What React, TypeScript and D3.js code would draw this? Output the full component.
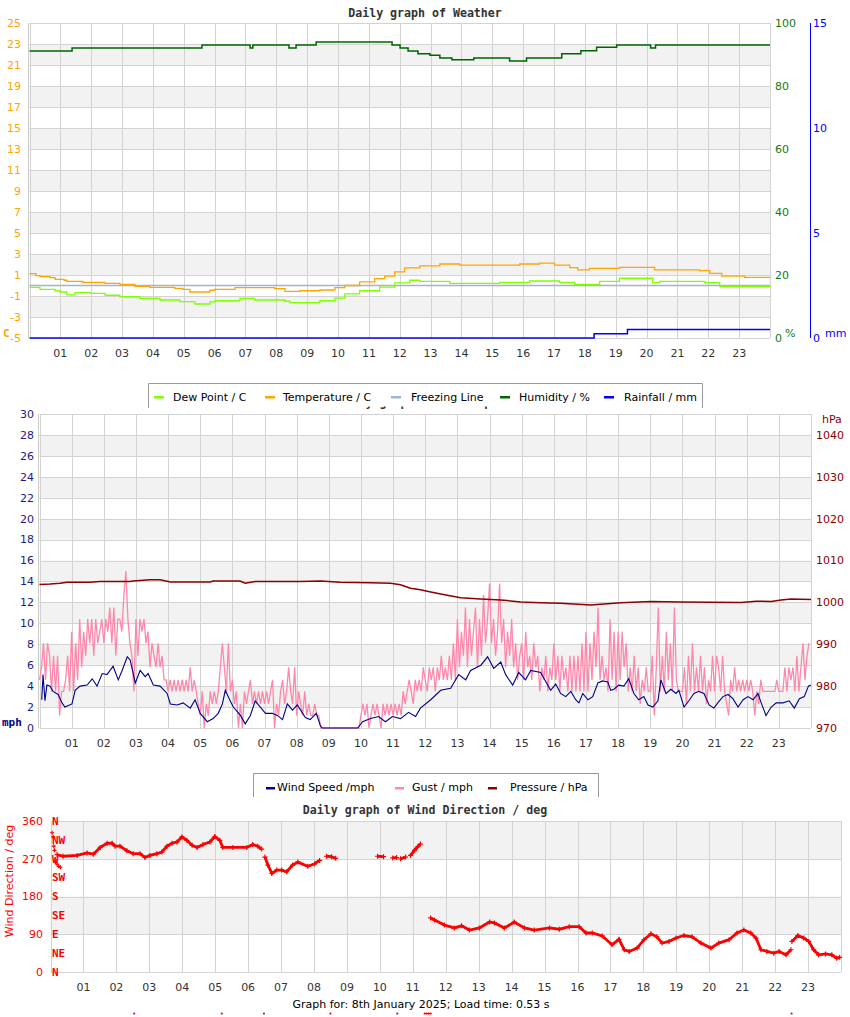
import * as d3 from "d3";

// ---------- data ----------
const hourLabels = d3.range(1, 24).map((h) => String(h).padStart(2, "0"));

// weather chart (hours since midnight)
const tempHours = [0, 0.21, 0.34, 0.66, 0.83, 1.12, 1.21, 1.73, 2.45, 2.93, 3.42, 3.9, 4.71, 4.97, 5.2, 5.85, 6.0, 6.66, 7.3, 7.95, 8.28, 8.76, 9.41, 9.9, 10.22, 10.7, 11.19, 11.51, 11.84, 12.16, 12.65, 13.3, 13.94, 14.91, 15.89, 16.53, 17.02, 17.51, 17.77, 18.15, 19.12, 20.1, 20.26, 21.72, 22.05, 22.44, 23.18, 24];
const tempC = [1.13, 0.95, 0.84, 0.75, 0.59, 0.5, 0.4, 0.3, 0.2, 0.1, -0.08, -0.17, -0.27, -0.36, -0.62, -0.45, -0.36, -0.2, -0.2, -0.3, -0.55, -0.5, -0.43, -0.2, 0.0, 0.35, 0.65, 0.9, 1.3, 1.67, 1.86, 2.05, 1.95, 1.95, 2.05, 2.14, 1.95, 1.7, 1.48, 1.64, 1.73, 1.73, 1.48, 1.41, 1.16, 0.9, 0.78, 0.78];

const dewHours = [0, 0.34, 0.83, 0.99, 1.21, 1.47, 1.96, 2.45, 2.93, 3.58, 4.23, 4.87, 5.36, 5.85, 6.01, 6.82, 7.3, 8.28, 8.44, 8.76, 9.41, 9.9, 10.22, 10.7, 11.35, 11.84, 12.33, 12.65, 13.62, 15.24, 16.21, 17.18, 17.67, 17.84, 18.48, 19.12, 20.1, 20.2, 20.42, 21.72, 21.89, 22.37, 24];
const dewC = [-0.17, -0.36, -0.5, -0.62, -0.9, -0.68, -0.75, -0.93, -1.07, -1.22, -1.38, -1.54, -1.76, -1.55, -1.45, -1.22, -1.38, -1.5, -1.64, -1.64, -1.45, -1.2, -0.8, -0.5, -0.15, 0.25, 0.5, 0.4, 0.2, 0.3, 0.43, 0.3, 0.11, 0.11, 0.4, 0.69, 0.69, 0.27, 0.4, 0.4, 0.27, -0.11, -0.17];

const freezingC = 0;

const humHours = [0, 1.38, 5.59, 7.15, 7.24, 8.41, 8.64, 9.29, 11.75, 12.01, 12.27, 12.59, 12.98, 13.3, 13.69, 14.4, 15.56, 16.11, 17.25, 17.87, 18.38, 19.03, 20.13, 20.29, 24];
const humPct = [91.1, 92.1, 93.0, 92.1, 93.0, 92.1, 93.0, 94.0, 93.0, 92.1, 91.1, 90.2, 89.8, 88.9, 88.3, 88.9, 87.9, 88.9, 90.2, 91.2, 92.3, 93.0, 92.1, 93.0, 93.0];

const rainHours = [0, 18.3, 19.38, 24];
const rainMm = [0, 0.2, 0.4, 0.4];

// wind chart
const windHours = [0.07, 0.11, 0.17, 0.23, 0.33, 0.42, 0.58, 0.7, 0.79, 1.01, 1.11, 1.26, 1.48, 1.64, 1.79, 1.95, 2.1, 2.29, 2.45, 2.57, 2.73, 2.82, 2.98, 3.13, 3.29, 3.38, 3.54, 3.75, 3.97, 4.07, 4.28, 4.47, 4.69, 4.84, 5.0, 5.22, 5.4, 5.56, 5.69, 5.78, 5.93, 6.03, 6.25, 6.4, 6.56, 6.71, 6.87, 7.03, 7.24, 7.4, 7.56, 7.71, 7.87, 8.02, 8.27, 8.42, 8.61, 8.74, 8.8, 9.9, 10.05, 10.3, 10.55, 10.76, 10.98, 11.23, 11.48, 11.7, 11.85, 12.17, 12.48, 12.79, 13.04, 13.26, 13.41, 13.73, 13.94, 14.13, 14.35, 14.5, 14.72, 14.91, 15.12, 15.28, 15.59, 15.9, 16.06, 16.21, 16.37, 16.53, 16.68, 16.78, 16.9, 17.06, 17.21, 17.37, 17.52, 17.68, 17.77, 17.87, 18.02, 18.18, 18.33, 18.49, 18.64, 18.8, 18.93, 19.08, 19.24, 19.33, 19.49, 19.64, 19.8, 19.89, 20.05, 20.2, 20.36, 20.51, 20.67, 20.83, 20.98, 21.1, 21.26, 21.42, 21.57, 21.73, 21.89, 22.04, 22.2, 22.35, 22.45, 22.6, 22.76, 22.92, 23.13, 23.32, 23.48, 23.64, 23.79, 23.92, 24];
const windMph = [2.7, 5.1, 2.6, 4.1, 4.0, 3.5, 3.2, 2.4, 2.0, 2.3, 3.6, 4.0, 4.1, 4.7, 4.0, 5.2, 5.1, 5.9, 4.6, 5.5, 6.8, 6.5, 4.3, 5.5, 4.9, 5.2, 4.1, 4.0, 3.3, 2.3, 2.2, 2.4, 1.9, 2.7, 1.4, 0.6, 0.9, 1.4, 2.3, 3.6, 2.6, 2.0, 1.2, 0.4, 1.2, 2.6, 2.0, 1.4, 1.4, 1.2, 0.8, 2.3, 1.7, 2.2, 1.0, 0.8, 1.4, 0.2, 0, 0, 0.6, 0.9, 1.1, 0.6, 1.1, 0.9, 1.5, 1.1, 1.9, 2.7, 3.6, 3.8, 5.1, 4.6, 5.5, 6.0, 6.8, 5.7, 6.3, 5.1, 4.1, 5.3, 4.6, 5.5, 5.3, 3.6, 4.2, 3.3, 3.0, 3.5, 2.7, 2.4, 3.3, 2.7, 3.0, 4.3, 4.5, 4.4, 3.6, 3.7, 4.1, 4.0, 4.7, 3.3, 2.7, 3.0, 2.2, 2.0, 2.6, 4.6, 3.3, 3.7, 3.3, 3.6, 2.0, 2.6, 3.3, 3.5, 3.3, 2.2, 1.9, 2.4, 3.0, 3.2, 2.8, 2.0, 2.7, 3.0, 2.7, 3.3, 2.4, 1.2, 2.0, 2.4, 2.4, 2.6, 1.9, 2.8, 3.0, 4.0, 4.1];

// gust readings, 16 per hour
const gustMph = [
  4.6, 5.8, 8.1, 4.6, 8.1, 6.9, 3.5, 6.9, 3.5, 6.9, 1.2, 3.5, 3.5, 4.6, 6.9, 3.5,
  9.2, 3.5, 8.1, 4.6, 10.4, 5.8, 9.2, 6.9, 10.4, 8.1, 10.4, 6.9, 10.4, 8.1, 9.2, 10.4,
  8.1, 10.4, 9.2, 11.5, 8.1, 11.5, 6.9, 10.4, 10.4, 9.2, 12.7, 15.0, 10.4, 8.1, 6.9, 3.5,
  10.4, 6.9, 10.4, 9.2, 10.4, 8.1, 9.2, 5.8, 8.1, 6.9, 5.8, 8.1, 5.8, 6.9, 4.6, 4.6,
  3.5, 4.6, 3.5, 4.6, 3.5, 4.6, 3.5, 4.6, 3.5, 4.6, 3.5, 5.8, 3.5, 4.6, 3.5, 2.3,
  1.2, 3.5, 0, 2.3, 1.2, 3.5, 2.3, 3.5, 2.3, 3.5, 5.8, 8.1, 5.8, 3.5, 8.1, 3.5,
  4.6, 2.3, 3.5, 0, 2.3, 0, 3.5, 2.3, 3.5, 4.6, 2.3, 3.5, 2.3, 3.5, 2.3, 3.5,
  2.3, 3.5, 2.3, 3.5, 4.6, 0, 2.3, 1.2, 3.5, 4.6, 2.3, 3.5, 5.8, 3.5, 2.3, 5.8,
  1.2, 3.5, 2.3, 1.2, 3.5, 1.2, 2.3, 1.2, 1.2, 2.3, 1.2, 1.2, 0, 0, 0, 0,
  0, 0, 0, 0, 0, 0, 0, 0, 0, 0, 0, 0, 0, 0, 0, 0,
  1.2, 2.3, 1.2, 2.3, 0, 1.2, 2.3, 1.2, 2.3, 1.2, 0, 2.3, 1.2, 2.3, 1.2, 2.3,
  1.2, 2.3, 1.2, 2.3, 1.2, 3.5, 2.3, 3.5, 4.6, 3.5, 2.3, 4.6, 3.5, 4.6, 3.5, 5.8,
  4.6, 3.5, 5.8, 4.6, 5.8, 3.5, 5.8, 4.6, 6.9, 4.6, 5.8, 4.6, 6.9, 4.6, 8.1, 4.6,
  10.4, 5.8, 9.2, 6.9, 11.5, 5.8, 10.4, 6.9, 9.2, 11.5, 5.8, 10.4, 6.9, 12.7, 8.1, 10.4,
  13.8, 8.1, 10.4, 6.9, 9.2, 13.8, 8.1, 10.4, 5.8, 9.2, 6.9, 10.4, 5.8, 8.1, 4.6, 6.9,
  8.1, 4.6, 9.2, 5.8, 6.9, 4.6, 8.1, 5.8, 6.9, 3.5, 5.8, 4.6, 6.9, 3.5, 5.8, 4.6,
  8.1, 4.6, 6.9, 3.5, 6.9, 4.6, 5.8, 3.5, 6.9, 3.5, 6.9, 3.5, 6.9, 3.5, 8.1, 3.5,
  9.2, 3.5, 8.1, 4.6, 9.2, 5.8, 11.5, 4.6, 6.9, 4.6, 5.8, 3.5, 10.4, 4.6, 9.2, 3.5,
  9.2, 4.6, 9.2, 5.8, 8.1, 3.5, 5.8, 3.5, 6.9, 3.5, 5.8, 2.3, 4.6, 3.5, 5.8, 3.5,
  3.5, 6.9, 1.2, 5.8, 11.5, 3.5, 6.9, 3.5, 9.2, 4.6, 8.1, 3.5, 11.5, 4.6, 3.5, 3.5,
  3.5, 5.8, 2.3, 6.9, 3.5, 8.1, 3.5, 5.8, 3.5, 6.9, 3.5, 5.8, 2.3, 4.6, 3.5, 6.9,
  3.5, 6.9, 5.8, 3.5, 6.9, 3.5, 2.3, 1.2, 4.6, 3.5, 5.8, 3.5, 4.6, 3.5, 4.6, 3.5,
  4.6, 3.5, 4.6, 3.5, 1.2, 3.5, 2.3, 4.6, 3.5, 3.5, 3.5, 3.5, 3.5, 3.5, 3.5, 4.6,
  3.5, 3.5, 3.5, 5.8, 3.5, 5.8, 4.6, 5.8, 3.5, 6.9, 3.5, 5.8, 8.1, 4.6, 6.9, 8.1,
];

const pressHours = [0, 0.33, 0.64, 0.86, 1.57, 1.88, 2.82, 2.91, 3.44, 3.75, 4.07, 5.31, 5.4, 6.24, 6.4, 6.71, 8.12, 8.74, 9.36, 10.3, 10.92, 11.23, 11.54, 11.85, 12.17, 12.48, 13.1, 13.72, 14.35, 14.97, 15.59, 16.21, 17.15, 18.08, 19.02, 19.95, 21.82, 22.29, 22.76, 23.07, 23.38, 24];
const pressHpa = [1004.3, 1004.4, 1004.6, 1004.8, 1004.8, 1005.0, 1005.0, 1005.1, 1005.4, 1005.4, 1004.9, 1004.9, 1005.1, 1005.1, 1004.6, 1005.0, 1005.0, 1005.1, 1004.8, 1004.7, 1004.6, 1004.2, 1003.4, 1003.0, 1002.5, 1002.0, 1001.1, 1000.8, 1000.6, 1000.1, 999.9, 999.8, 999.4, 999.9, 1000.2, 1000.1, 1000.0, 1000.3, 1000.2, 1000.6, 1000.8, 1000.7];

// wind direction (NaN = gap in the record)
const dirHours = [0.2, 0.38, 0.81, 1.11, 1.3, 1.51, 1.72, 1.87, 1.96, 2.11, 2.32, 2.51, 2.72, 2.87, 3.02, 3.23, 3.38, 3.54, 3.69, 3.84, 3.99, 4.14, 4.3, 4.45, 4.63, 4.84, 4.99, 5.14, 5.23, 5.54, 5.96, 6.14, 6.29, 6.41, 6.45, 6.51, 6.6, 6.72, 6.87, 7.02, 7.17, 7.35, 7.51, 7.81, 8.02, 8.17, 8.27, 8.38, 8.53, 8.66, 8.7, 9.93, 10.11, 10.2, 10.39, 10.51, 10.56, 10.63, 10.78, 10.85, 10.93, 11.05, 11.14, 11.23, 11.3, 11.54, 11.66, 11.96, 12.26, 12.48, 12.72, 13.02, 13.33, 13.48, 13.78, 14.08, 14.39, 14.69, 15.15, 15.45, 15.75, 16.05, 16.26, 16.45, 16.75, 17.05, 17.26, 17.42, 17.57, 17.81, 18.02, 18.23, 18.41, 18.57, 18.78, 18.99, 19.23, 19.48, 19.75, 20.05, 20.29, 20.6, 20.84, 21.05, 21.26, 21.42, 21.57, 21.75, 21.96, 22.12, 22.33, 22.48, 22.5, 22.51, 22.69, 22.87, 23.02, 23.17, 23.32, 23.53, 23.72, 23.87, 23.96];
const dirDeg = [280, 276, 278, 284, 281, 297, 307, 307, 300, 300, 289, 282, 282, 273, 278, 282, 286, 300, 307, 310, 322, 314, 302, 297, 304, 310, 323, 314, 297, 297, 297, 304, 300, 293, NaN, 274, 255, 235, 243, 243, 239, 255, 262, 252, 258, 266, NaN, 276, 275, 271, NaN, 276, 275, NaN, 272, 273, NaN, 270, 274, NaN, 278, 290, 298, 305, NaN, 129, 124, 112, 105, 110, 100, 105, 119, 117, 105, 119, 105, 100, 105, 102, 108, 108, 93, 93, 86, 65, 78, 53, 49, 57, 77, 91, 84, 69, 73, 81, 87, 84, 69, 57, 69, 77, 93, 100, 93, 81, 53, 49, 45, 49, 41, 53, NaN, 73, 87, 81, 73, 53, 41, 43, 41, 33, 35];

const dirEarlyHours = [0.05, 0.08, 0.1, 0.12, 0.15, 0.2, 0.25, 0.3];
const dirEarlyDeg = [332, 322, 300, 290, 262, 257, 252, 250];

const dirMissingHours = [2.54, 5.2, 6.48, 8.5, 10.53, 11.36, 11.42, 11.48, 11.54, 22.5];
const dirMissingDeg = [-99, -99, -99, -99, -99, -99, -99, -99, -99, -99];

// axis ticks
const tempTicks = d3.range(-5, 26, 2);
const humTicks = [0, 20, 40, 60, 80, 100];
const rainTicks = [0, 5, 10, 15];
const windTicks = d3.range(0, 31, 2);
const pressTicks = d3.range(970, 1041, 10);
const dirTicks = [0, 90, 180, 270, 360];
const compassLabels = ["N", "NE", "E", "SE", "S", "SW", "W", "NW", "N"];

// ---------- helpers ----------
const SANS = "DejaVu Sans, sans-serif";
const MONO = "DejaVu Sans Mono, monospace";
const GRID = "#d3d3d3";
const BAND = "#f2f2f2";
const px = (v: number) => Math.round(v) + 0.5;
const zip = (xs: number[], ys: number[]) => xs.map((x, i) => [x, ys[i]] as [number, number]);

function Plot({ x, y, bands, lines, left, right, top, bottom }: any) {
  return (
    <g>
      {bands.map(([a, b]: number[]) => (
        <rect key={a} x={left} width={right - left} y={y(b)} height={y(a) - y(b)} fill={BAND} />
      ))}
      {lines.map((v: number) => (
        <line key={"h" + v} x1={left} x2={right} y1={px(y(v))} y2={px(y(v))} stroke={GRID} />
      ))}
      {d3.range(0, 25).map((h) => (
        <line key={"v" + h} x1={px(x(h))} x2={px(x(h))} y1={top} y2={bottom} stroke={GRID} />
      ))}
    </g>
  );
}

function HourLabels({ x, y }: any) {
  return (
    <g fontFamily={SANS} fontSize={11} fill="#333" textAnchor="middle">
      {hourLabels.map((l, i) => (
        <text key={l} x={x(i + 1)} y={y}>{l}</text>
      ))}
    </g>
  );
}

function crosses(pts: [number, number][], x: any, y: any, r: number) {
  return pts
    .map(([h, v]) => `M${x(h) - r},${y(v)}h${2 * r}M${x(h)},${y(v) - r}v${2 * r}`)
    .join("");
}

export default function App() {
  // chart 1: weather
  const x1 = d3.scaleLinear().domain([0, 24]).range([29.5, 770]);
  const yTemp = d3.scaleLinear().domain([-5, 25]).range([338, 23]);
  const yHum = d3.scaleLinear().domain([0, 100]).range([338, 23]);
  const yRain = d3.scaleLinear().domain([0, 15]).range([338, 23]);

  const line1 = (ys: any, curve: any = d3.curveLinear) =>
    d3.line<[number, number]>().x((d) => x1(d[0])).y((d) => ys(d[1])).curve(curve);

  // chart 2: wind
  const x2 = d3.scaleLinear().domain([0, 24]).range([39.5, 811]);
  const yWind = d3.scaleLinear().domain([0, 30]).range([728, 414]);
  const yPress = d3.scaleLinear().domain([970, 1045]).range([728, 414]);
  const line2 = (ys: any) => d3.line<[number, number]>().x((d) => x2(d[0])).y((d) => ys(d[1]));

  // chart 3: direction
  const x3 = d3.scaleLinear().domain([0, 24]).range([50.5, 841]);
  const yDir = d3.scaleLinear().domain([0, 360]).range([972, 821]);
  const dirPts = zip(dirHours, dirDeg);
  const dirLine = d3
    .line<[number, number]>()
    .defined((d) => !isNaN(d[1]))
    .x((d) => x3(d[0]))
    .y((d) => yDir(d[1]));

  const legend1 = [
    { label: "Dew Point / C", color: "#7fff00", sx: 154, tx: 173 },
    { label: "Temperature / C", color: "#ffa500", sx: 265, tx: 283 },
    { label: "Freezing Line", color: "#a3b4cc", sx: 391, tx: 411 },
    { label: "Humidity / %", color: "#006400", sx: 500, tx: 519 },
    { label: "Rainfall / mm", color: "#0000ff", sx: 604, tx: 624 },
  ];
  const legend2 = [
    { label: "Wind Speed /mph", color: "#00008b", sx: 266, tx: 277 },
    { label: "Gust / mph", color: "#ff88aa", sx: 395, tx: 412 },
    { label: "Pressure / hPa", color: "#8b0000", sx: 488, tx: 510 },
  ];

  return (
    <div style={{ position: "absolute", left: 0, top: 0 }}>
      <svg width={850} height={1017} style={{ display: "block", background: "#fff" }}>
        {/* ---------------- chart 1 ---------------- */}
        <text x={425} y={17} textAnchor="middle" fontFamily={MONO} fontWeight="bold" fontSize={11.6} fill="#333">
          Daily graph of Weather
        </text>
        <Plot x={x1} y={yTemp} left={29.5} right={770} top={23} bottom={338}
          bands={[-3, 1, 5, 9, 13, 17, 21].map((a) => [a, a + 2])} lines={tempTicks} />
        <line x1={28.5} x2={28.5} y1={23} y2={338} stroke="#ccc" />
        <path d={line1(yTemp)([[0, freezingC], [24, freezingC]]) || ""} fill="none" stroke="#a3b4cc" strokeWidth={1.5} />
        <path d={line1(yTemp, d3.curveStepAfter)(zip(dewHours, dewC)) || ""} fill="none" stroke="#7fff00" strokeWidth={1.3} />
        <path d={line1(yTemp, d3.curveStepAfter)(zip(tempHours, tempC)) || ""} fill="none" stroke="#ffa500" strokeWidth={1.3} />
        <path d={line1(yHum, d3.curveStepAfter)(zip(humHours, humPct)) || ""} fill="none" stroke="#006400" strokeWidth={1.5} />
        <path d={line1(yRain, d3.curveStepAfter)(zip(rainHours, rainMm)) || ""} fill="none" stroke="#0000ff" strokeWidth={1.5} />

        <g fontFamily={SANS} fontSize={11} fill="#ffa500" textAnchor="end">
          {tempTicks.map((t) => (
            <text key={t} x={21} y={yTemp(t)} dy="0.35em">{t}</text>
          ))}
        </g>
        <text x={3} y={333} dy="0.35em" fontFamily={MONO} fontWeight="bold" fontSize={11} fill="#ffa500">C</text>
        <g fontFamily={SANS} fontSize={11} fill="#137a13">
          {humTicks.map((t) => (
            <text key={t} x={775} y={yHum(t)} dy="0.35em">{t}</text>
          ))}
          <text x={785} y={333} dy="0.35em">%</text>
        </g>
        <line x1={810.5} x2={810.5} y1={23} y2={338} stroke="#0000ff" />
        <g fontFamily={SANS} fontSize={11} fill="#0000ff">
          {rainTicks.map((t) => (
            <text key={t} x={813} y={yRain(t)} dy="0.35em">{t}</text>
          ))}
          <text x={825} y={333} dy="0.35em">mm</text>
        </g>
        <HourLabels x={x1} y={357} />

        {/* chart 2 title, almost hidden by legend 1 */}
        <text x={425} y={406} textAnchor="middle" fontFamily={MONO} fontWeight="bold" fontSize={11.6} fill="#333">
          Daily graph of Wind Speed
        </text>
        <rect x={148} y={383} width={554} height={23.5} fill="#fff" />
        <path d="M148.5,408V383.5H702.5V408" fill="none" stroke="#999" />
        <g fontFamily={SANS} fontSize={11} fill="#000">
          {legend1.map((l) => (
            <g key={l.label}>
              <rect x={l.sx} y={396} width={10} height={2.5} fill={l.color} />
              <text x={l.tx} y={397} dy="0.35em">{l.label}</text>
            </g>
          ))}
        </g>

        {/* ---------------- chart 2 ---------------- */}
        <Plot x={x2} y={yWind} left={39.5} right={811} top={414} bottom={728}
          bands={[2, 6, 10, 14, 18, 22, 26].map((a) => [a, a + 2])} lines={windTicks} />
        <line x1={38.5} x2={38.5} y1={414} y2={728} stroke="#ccc" />
        <path d={line2(yWind)(gustMph.map((v, i) => [i / 16, v] as [number, number])) || ""}
          fill="none" stroke="#ff88aa" strokeWidth={1.3} />
        <path d={line2(yWind)(zip(windHours, windMph)) || ""} fill="none" stroke="#00008b" strokeWidth={1.1} />
        <path d={line2(yPress)(zip(pressHours, pressHpa)) || ""} fill="none" stroke="#8b0000" strokeWidth={1.5} />

        <g fontFamily={SANS} fontSize={11} fill="#1a1a8c" textAnchor="end">
          {windTicks.map((t) => (
            <text key={t} x={34} y={yWind(t)} dy="0.35em">{t}</text>
          ))}
        </g>
        <text x={2} y={722} dy="0.35em" fontFamily={MONO} fontWeight="bold" fontSize={11} fill="#00008b">mph</text>
        <g fontFamily={SANS} fontSize={11} fill="#8b0000">
          {pressTicks.map((t) => (
            <text key={t} x={816} y={yPress(t)} dy="0.35em">{t}</text>
          ))}
          <text x={822} y={419} dy="0.35em">hPa</text>
        </g>
        <HourLabels x={x2} y={747} />

        {/* legend 2 */}
        <rect x={253} y={773} width={346} height={22} fill="#fff" />
        <path d="M253.5,797V773.5H598.5V797" fill="none" stroke="#999" />
        <g fontFamily={SANS} fontSize={11} fill="#000">
          {legend2.map((l) => (
            <g key={l.label}>
              <rect x={l.sx} y={787} width={9} height={2.5} fill={l.color} />
              <text x={l.tx} y={787} dy="0.35em">{l.label}</text>
            </g>
          ))}
        </g>

        {/* ---------------- chart 3 ---------------- */}
        <text x={425} y={814} textAnchor="middle" fontFamily={MONO} fontWeight="bold" fontSize={11.6} fill="#333">
          Daily graph of Wind Direction / deg
        </text>
        <Plot x={x3} y={yDir} left={50.5} right={841} top={821} bottom={972}
          bands={[[270, 360], [90, 180]]} lines={dirTicks} />
        <path d={dirLine(dirPts) || ""} fill="none" stroke="#ff0000" strokeWidth={2.8} />
        <path d={crosses(dirPts.filter((d) => !isNaN(d[1])), x3, yDir, 2.5)} stroke="#ff0000" strokeWidth={1.2} fill="none" />
        <path d={crosses(zip(dirEarlyHours, dirEarlyDeg), x3, yDir, 2)} stroke="#ff0000" strokeWidth={1.2} fill="none" />
        <path d={crosses(zip(dirMissingHours, dirMissingDeg), x3, yDir, 1)} stroke="#ff0000" strokeWidth={1.2} fill="none" />

        <g fontFamily={SANS} fontSize={11} fill="#ff0000" textAnchor="end">
          {dirTicks.map((t) => (
            <text key={t} x={43} y={yDir(t)} dy="0.35em">{t}</text>
          ))}
        </g>
        <g fontFamily={MONO} fontWeight="bold" fontSize={11} fill="#ff0000">
          {compassLabels.map((c, i) => (
            <text key={i} x={52} y={yDir(i * 45)} dy="0.35em">{c}</text>
          ))}
        </g>
        <text transform="translate(13,881) rotate(-90)" textAnchor="middle" fontFamily={SANS} fontSize={11} fill="#ff0000">
          Wind Direction / deg
        </text>
        <HourLabels x={x3} y={991} />

        <text x={421} y={1008} textAnchor="middle" fontFamily={SANS} fontSize={11} fill="#000">
          Graph for: 8th January 2025; Load time: 0.53 s
        </text>
      </svg>
    </div>
  );
}
